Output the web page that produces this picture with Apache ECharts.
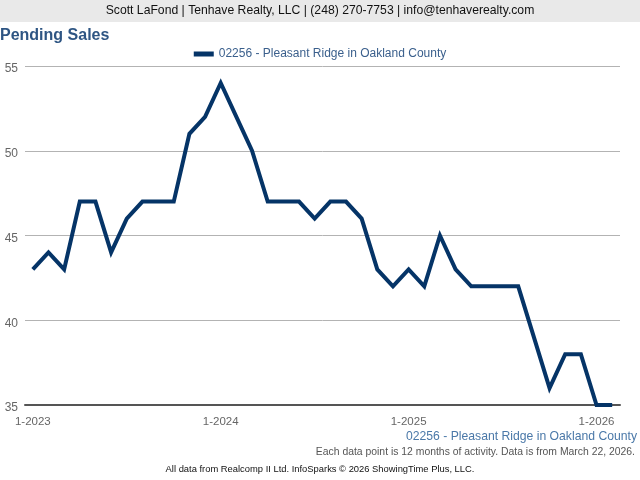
<!DOCTYPE html>
<html><head><meta charset="utf-8">
<script src="https://cdn.jsdelivr.net/npm/echarts@6/dist/echarts.min.js"></script>
<style>html,body{margin:0;padding:0;background:#fff}#c{width:640px;height:480px}</style>
</head><body><div id="c"></div>
<script>
const months = ["1-2023","2-2023","3-2023","4-2023","5-2023","6-2023","7-2023","8-2023","9-2023","10-2023","11-2023","12-2023",
"1-2024","2-2024","3-2024","4-2024","5-2024","6-2024","7-2024","8-2024","9-2024","10-2024","11-2024","12-2024",
"1-2025","2-2025","3-2025","4-2025","5-2025","6-2025","7-2025","8-2025","9-2025","10-2025","11-2025","12-2025",
"1-2026","2-2026"];
const pendingSales = [43,44,43,47,47,44,46,47,47,47,51,52,
54,52,50,47,47,47,46,47,47,46,43,42,
43,42,45,43,42,42,42,42,39,36,38,38,
35,35];
const seriesName = "02256 - Pleasant Ridge in Oakland County";
const yTicks = {min:35, max:55, interval:5};
const font = "Liberation Sans, Arial, sans-serif";
const chart = echarts.init(document.getElementById('c'), null, {renderer:'canvas'});
chart.setOption({
  backgroundColor:'#fff',
  animation:false,
  textStyle:{fontFamily:font},
  graphic:[
    {type:'rect', shape:{x:0,y:0,width:640,height:22}, style:{fill:'#e9e9e9'}, z:-1},
    {type:'text', x:320, y:11, style:{text:"Scott LaFond | Tenhave Realty, LLC | (248) 270-7753 | info@tenhaverealty.com", font:"12.2px "+font, fill:'#111', align:'center', verticalAlign:'middle'}}
  ],
  title:[
    {text:"Pending Sales", left:0, top:28, padding:0, textStyle:{fontSize:16, fontWeight:'bold', color:'#2e5583', fontFamily:font}},
    {text:seriesName, right:3, top:431, padding:0, textStyle:{fontSize:12.2, fontWeight:'normal', color:'#4a78a8', fontFamily:font}},
    {text:"Each data point is 12 months of activity. Data is from March 22, 2026.", right:5, top:447, padding:0, textStyle:{fontSize:10.4, fontWeight:'normal', color:'#555', fontFamily:font}},
    {text:"All data from Realcomp II Ltd. InfoSparks \u00a9 2026 ShowingTime Plus, LLC.", left:'center', top:465, padding:0, textStyle:{fontSize:9.4, fontWeight:'normal', color:'#111', fontFamily:font}}
  ],
  legend:{top:43, left:'center', itemWidth:20, itemHeight:5, icon:'rect', itemGap:5,
    textStyle:{fontSize:12, color:'#3a5f8c', fontFamily:font}, data:[seriesName]},
  grid:{left:25, right:20, top:66, bottom:75, containLabel:false},
  xAxis:{type:'category', data:months, boundaryGap:true,
    axisLine:{lineStyle:{color:'#555', width:2}},
    axisTick:{alignWithLabel:true, length:5, lineStyle:{color:'#555', width:2}, interval:(i)=>i%12===0},
    axisLabel:{interval:(i)=>i%12===0, color:'#666', fontSize:11.5, margin:11, fontFamily:font},
    splitLine:{show:false}},
  yAxis:{type:'value', min:yTicks.min, max:yTicks.max, interval:yTicks.interval,
    axisLine:{show:false}, axisTick:{show:false},
    axisLabel:{color:'#666', fontSize:12, margin:7, formatter:'{a|{value}}',
      rich:{a:{color:'#666', fontSize:12, fontFamily:font, padding:[6,0,0,0]}}, fontFamily:font},
    splitLine:{lineStyle:{color:'#b3b3b3', width:1}}},
  series:[{name:seriesName, type:'line', data:pendingSales, showSymbol:false, symbol:'none',
    lineStyle:{color:'#053467', width:4, join:'miter'}, itemStyle:{color:'#053467'}}]
});
</script></body></html>
